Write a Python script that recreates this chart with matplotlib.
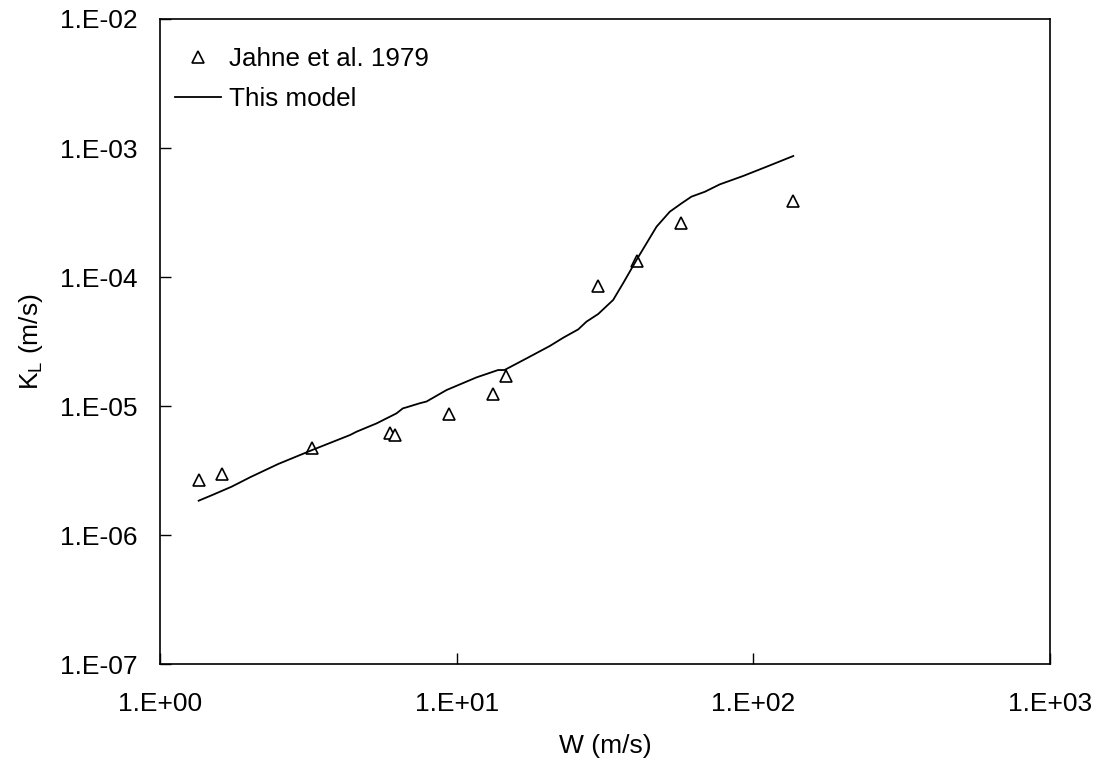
import numpy as np
import matplotlib
matplotlib.use('Agg')
import matplotlib.pyplot as plt
from matplotlib.ticker import NullLocator

plt.rcParams['font.family'] = ['Liberation Sans', 'DejaVu Sans']
plt.rcParams['mathtext.fontset'] = 'custom'
plt.rcParams['mathtext.rm'] = 'Liberation Sans'

# 観測値 (Jahne et al. 1979)
obs_w = [1.35, 1.62, 3.26, 5.95, 6.22, 9.44, 13.3, 14.7, 30.0, 40.6, 57.0, 136.4]
obs_kl = [2.67e-6, 2.97e-6, 4.7e-6, 6.2e-6, 5.96e-6, 8.63e-6, 1.24e-5, 1.72e-5,
          8.57e-5, 1.34e-4, 2.64e-4, 3.88e-4]

# モデル曲線 (log10 KL)
model_w = [1.35, 1.50, 1.745, 2.01, 2.50, 3.26, 4.37, 4.60, 5.38, 6.27, 6.59, 6.78,
           7.50, 7.92, 9.25, 11.67, 13.8, 14.5, 17.2, 20.6, 22.9, 25.7, 27.4, 30.0,
           33.7, 36.4, 40.4, 47.2, 52.3, 57.3, 61.9, 68.7, 77.1, 92.4, 110.9, 136.4]
model_logkl = [-5.734, -5.690, -5.625, -5.553, -5.450, -5.341, -5.225, -5.199, -5.134,
               -5.057, -5.018, -5.010, -4.979, -4.965, -4.876, -4.778, -4.721, -4.721,
               -4.631, -4.535, -4.470, -4.406, -4.346, -4.287, -4.178, -4.049, -3.868,
               -3.610, -3.494, -3.429, -3.377, -3.339, -3.282, -3.217, -3.145, -3.062]

x_ticks = [1, 10, 100, 1000]
x_labels = ['1.E+00', '1.E+01', '1.E+02', '1.E+03']
y_ticks = [1e-7, 1e-6, 1e-5, 1e-4, 1e-3, 1e-2]
y_labels = ['1.E-07', '1.E-06', '1.E-05', '1.E-04', '1.E-03', '1.E-02']

fig = plt.figure(figsize=(11.04, 7.63), dpi=100)
ax = fig.add_axes([0.1449, 0.1297, 0.951 - 0.1449, 0.9751 - 0.1297])

ax.plot(obs_w, obs_kl, linestyle='none', marker='^', markersize=8,
        markerfacecolor='white', markeredgecolor='black', markeredgewidth=1.2,
        label='Jahne et al. 1979')
ax.plot(model_w, 10 ** np.array(model_logkl), color='black', linewidth=1.3,
        label='This model')

ax.set_xscale('log')
ax.set_yscale('log')
ax.set_xlim(1, 1000)
ax.set_ylim(1e-7, 1e-2)
ax.set_xticks(x_ticks)
ax.set_xticklabels(x_labels)
ax.set_yticks(y_ticks)
ax.set_yticklabels(y_labels)
ax.xaxis.set_minor_locator(NullLocator())
ax.yaxis.set_minor_locator(NullLocator())
ax.tick_params(axis='both', direction='in', length=8, width=1, labelsize=19)
ax.tick_params(axis='x', pad=20)
ax.tick_params(axis='y', pad=16)
for s in ax.spines.values():
    s.set_linewidth(1.2)

ax.set_xlabel('W (m/s)', fontsize=19, labelpad=13)
ax.set_ylabel(r'K$_\mathregular{L}$ (m/s)', fontsize=19, labelpad=11)

ax.legend(loc='upper left', frameon=False, fontsize=18.7, handlelength=1.77,
          handletextpad=0.3, borderaxespad=0.3, labelspacing=0.62,
          bbox_to_anchor=(-0.003, 0.985))

fig.savefig('out.png', dpi=100)
